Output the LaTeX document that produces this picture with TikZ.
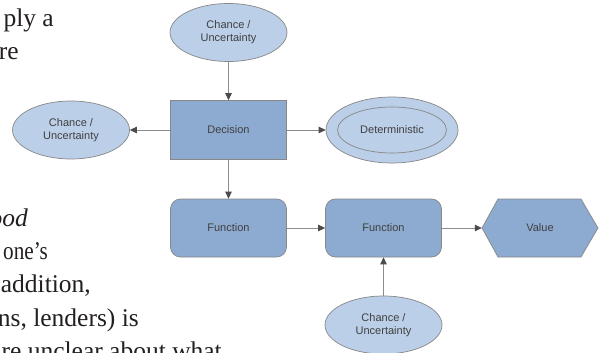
\documentclass[tikz,border=0pt]{standalone}
\usepackage{fontspec}
\setmainfont{Liberation Serif}
\newfontfamily\diagfont{Liberation Sans}
\usetikzlibrary{arrows.meta,shapes.geometric}
\definecolor{ellfill}{RGB}{187,207,232}
\definecolor{boxfill}{RGB}{141,170,208}
\definecolor{edgecol}{RGB}{135,135,135}
\definecolor{linecol}{RGB}{140,140,140}
\definecolor{tipcol}{RGB}{75,75,75}
\definecolor{txtcol}{RGB}{64,64,64}
\definecolor{bodytxt}{RGB}{35,31,32}
\begin{document}
\begin{tikzpicture}[x=1pt,y=-1pt,
  dtext/.style={font=\diagfont\fontsize{11}{13}\selectfont, text=txtcol, align=center},
  chance/.style={dtext, ellipse, draw=edgecol, line width=0.7pt, fill=ellfill, minimum width=117pt, minimum height=58pt, inner sep=0pt},
  stepbox/.style={dtext, rectangle, draw=edgecol, line width=0.7pt, fill=boxfill, minimum width=116pt, minimum height=59pt, inner sep=0pt},
  funcbox/.style={stepbox, rounded corners=10pt, minimum height=58pt},
  hexshape/.style={draw=edgecol, line width=0.7pt, fill=boxfill},
  conn/.style={draw=linecol, line width=0.8pt, -{Triangle[length=7pt,width=6.5pt,color=tipcol]}},
  body/.style={font=\fontsize{25.5}{33}\selectfont, text=bodytxt, anchor=base east, inner sep=0pt}
]
\useasboundingbox (0,0) rectangle (603,353);
\fill[white] (0,0) rectangle (603,353);
\clip (0,0) rectangle (603,353);

% page text (cropped at the left edge, as in the reference)
\node[body] (t1) at (54,27) {ply a};
\node[body] (t2) at (19,60) {re};
\node[body] (t3) at (28,226) {\itshape ood};
\node[body, anchor=base west] (t4) at (3,259) {\scalebox{0.83}[1]{one’s}};
\node[body] (t5) at (91,292) {addition,};
\node[body] (t6) at (139,326) {ns, lenders) is};
\node[body] (t7) at (222,359) {re unclear about what};

% diagram nodes
\node[chance] (c1) at (228.5,32.5) {Chance /\\Uncertainty};
\node[stepbox] (dec) at (228.5,130) {Decision};
\node[chance] (c2) at (71,130) {Chance /\\Uncertainty};
\node[chance, minimum width=132pt, minimum height=66pt] (det) at (392,130) {};
\node[dtext, ellipse, draw=edgecol, line width=0.7pt, minimum width=109pt, minimum height=46pt, inner sep=0pt] (deti) at (det.center) {Deterministic};
\node[funcbox] (f1) at (228.5,228) {Function};
\node[funcbox] (f2) at (383.5,228) {Function};
\draw[hexshape] (482,228) -- (498,199) -- (581,199) -- (598,228) -- (581,257) -- (498,257) -- cycle;
\node[dtext, minimum width=116pt, minimum height=58pt, inner sep=0pt] (val) at (540,228) {Value};
\node[chance] (c3) at (383.5,325) {Chance /\\Uncertainty};

% connectors
\draw[conn] (c1) -- (dec);
\draw[conn] (dec) -- (c2);
\draw[conn] (dec) -- (det);
\draw[conn] (dec) -- (f1);
\draw[conn] (f1) -- (f2);
\draw[conn] (f2) -- (val);
\draw[conn] (c3) -- (f2);
\end{tikzpicture}
\end{document}
